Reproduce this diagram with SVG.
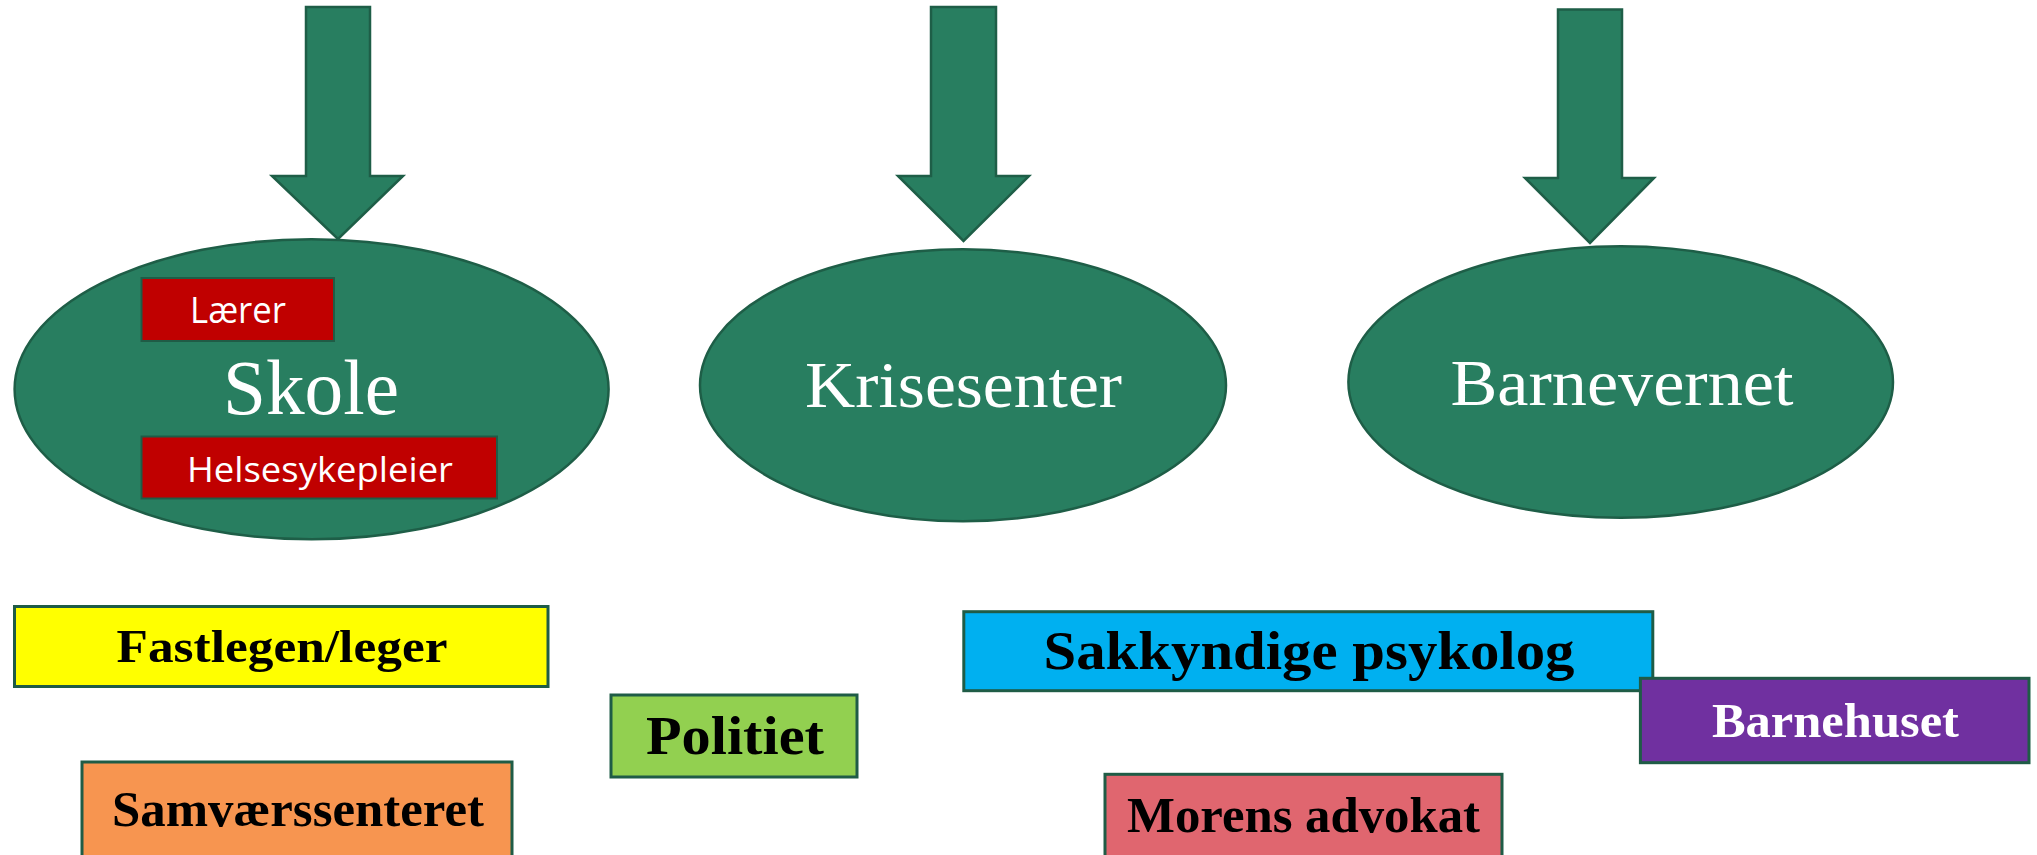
<svg xmlns="http://www.w3.org/2000/svg" width="2037" height="855" viewBox="0 0 2037 855">
<style>
.arrow{fill:#287E60;stroke:#1E5E47;stroke-width:2.5}
.ell{fill:#287E60;stroke:#1E5E47;stroke-width:2.5}
.box{stroke:#1F5C46;stroke-width:3}
.red{fill:#C00000;stroke:#1F5C46;stroke-width:2}
.big{font-family:"Liberation Serif","DejaVu Serif",serif;fill:#FFFFFF;text-anchor:middle}
.sans{font-family:"Open Sans","Noto Sans","Liberation Sans",sans-serif;fill:#FFFFFF;text-anchor:middle}
.lbl{font-family:"Liberation Serif","DejaVu Serif",serif;font-weight:bold;text-anchor:middle;fill:#000000}
</style>
<rect width="2037" height="855" fill="#FFFFFF"/>
<g id="connectors">
<polygon class="arrow" points="306,7 370,7 370,176 403,176 338,239 272,176 306,176"/>
<polygon class="arrow" points="931,7 996,7 996,176 1029,176 963.5,241 898,176 931,176"/>
<polygon class="arrow" points="1558,9.5 1622,9.5 1622,178 1654,178 1590,243 1525,178 1558,178"/>
</g>
<g id="skole">
<ellipse class="ell" cx="311.6" cy="389.3" rx="297" ry="150"/>
<text class="big" x="311" y="414" font-size="78" textLength="176" lengthAdjust="spacingAndGlyphs">Skole</text>
</g>
<g id="laerer">
<rect class="red" x="141.5" y="278" width="192.5" height="63"/>
<text class="sans" x="238" y="323" font-size="36" textLength="96" lengthAdjust="spacingAndGlyphs">Lærer</text>
</g>
<g id="helsesykepleier">
<rect class="red" x="141.5" y="436.5" width="355.5" height="62"/>
<text class="sans" x="320" y="482" font-size="34" textLength="266" lengthAdjust="spacingAndGlyphs">Helsesykepleier</text>
</g>
<g id="krisesenter">
<ellipse class="ell" cx="963" cy="385.2" rx="263" ry="136"/>
<text class="big" x="963.5" y="407" font-size="66" textLength="317" lengthAdjust="spacingAndGlyphs">Krisesenter</text>
</g>
<g id="barnevernet">
<ellipse class="ell" cx="1620.7" cy="382" rx="272.3" ry="135.7"/>
<text class="big" x="1622" y="404.6" font-size="65" textLength="343" lengthAdjust="spacingAndGlyphs">Barnevernet</text>
</g>
<g id="fastlegen">
<rect class="box" x="14.5" y="606.5" width="533.5" height="80" fill="#FFFF00"/>
<text class="lbl" x="282" y="661.7" font-size="47" textLength="331" lengthAdjust="spacingAndGlyphs">Fastlegen/leger</text>
</g>
<g id="politiet">
<rect class="box" x="611" y="695" width="246" height="82" fill="#92D050"/>
<text class="lbl" x="735" y="754" font-size="55" textLength="178" lengthAdjust="spacingAndGlyphs">Politiet</text>
</g>
<g id="samvaerssenteret">
<rect class="box" x="82" y="762" width="430" height="110" fill="#F79550"/>
<text class="lbl" x="298" y="826" font-size="51" textLength="372" lengthAdjust="spacingAndGlyphs">Samværssenteret</text>
</g>
<g id="sakkyndige">
<rect class="box" x="963.8" y="611.7" width="689" height="79" fill="#00B0F0"/>
<text class="lbl" x="1309" y="669.3" font-size="54" textLength="531" lengthAdjust="spacingAndGlyphs">Sakkyndige psykolog</text>
</g>
<g id="barnehuset">
<rect class="box" x="1640.4" y="678.3" width="388.6" height="84.4" fill="#7030A0"/>
<text class="lbl" x="1835.4" y="736.7" font-size="48" textLength="247" lengthAdjust="spacingAndGlyphs" fill="#FFFFFF" style="fill:#FFFFFF">Barnehuset</text>
</g>
<g id="morens">
<rect class="box" x="1105" y="774.3" width="397" height="100" fill="#E0666F"/>
<text class="lbl" x="1303.5" y="831.7" font-size="50" textLength="353" lengthAdjust="spacingAndGlyphs">Morens advokat</text>
</g>
</svg>
